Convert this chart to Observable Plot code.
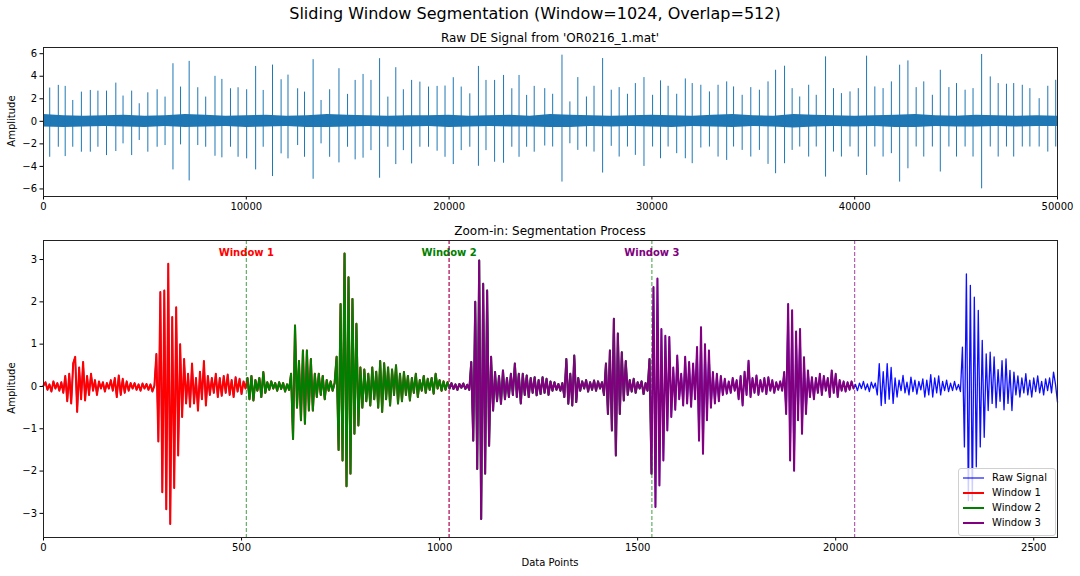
<!DOCTYPE html>
<html><head><meta charset="utf-8">
<script src="https://cdn.jsdelivr.net/npm/d3@7"></script>
<script src="https://cdn.jsdelivr.net/npm/@observablehq/plot@0.6"></script>
<style>
body{margin:0;background:#fff;}
#root{position:relative;width:1080px;height:576px;font-family:"DejaVu Sans",sans-serif;color:#000;overflow:hidden;background:#fff;}
.t{position:absolute;white-space:nowrap;}
.abs{position:absolute;left:0;}
.leg{position:absolute;left:958px;top:468px;width:96px;height:66px;border:1px solid #d0d0d0;border-radius:3px;background:rgba(255,255,255,0.8);font-size:10px;}
.row{position:absolute;left:0;height:14px;line-height:14px;}
.sw{position:absolute;left:4px;top:6px;width:21px;height:2px;}
.lb{position:absolute;left:33px;top:0;}
</style></head><body><div id="root"></div>
<script>
// ---------- Top panel: raw DE signal (50000 samples) ----------
const rawXTicks = [0, 10000, 20000, 30000, 40000, 50000];
const rawYTicks = [-6, -4, -2, 0, 2, 4, 6];
// impact spikes: sample position, max, min
const spikeX = [306,730,1070,1443,1868,2309,2683,3107,3566,3922,4347,4720,5145,5603,5994,6384,6758,7183,7607,7998,8456,8796,9220,9594,10018,10460,10833,11292,11716,12056,12531,12871,13295,13686,14110,14569,14993,15367,15757,16148,16572,16980,17371,17744,18152,18559,18984,19408,19799,20206,20597,21021,21446,21819,22244,22685,23093,23449,23823,24197,
24716,25107,25566,25956,26347,26772,27146,27570,27995,28386,28794,29184,29609,30034,30425,30799,31223,31648,31988,32413,32837,33262,33687,34027,34451,34876,35301,35726,36099,36541,36915,37289,37730,38104,38563,38954,39345,39769,40177,40585,40993,41400,41808,42216,42624,43031,43405,43830,44221,44645,45019,45444,45835,46259,46684,47075,47483,47840,48264,48638,49096,49521,49912];
const spikeHi = [2.95,3.19,3.10,1.85,2.59,2.74,2.68,2.68,3.39,2.24,2.68,1.56,2.53,2.80,2.15,5.11,3.04,5.32,2.98,2.15,3.99,3.72,2.89,2.98,2.80,4.87,2.74,4.99,3.69,4.10,2.89,2.59,5.47,1.85,2.80,4.67,2.39,3.63,4.16,3.63,5.56,2.15,4.76,2.80,3.63,3.48,3.04,3.10,3.13,3.87,3.04,2.44,4.87,3.63,3.63,4.07,2.89,4.07,2.30,3.10,
2.90,2.40,5.87,1.72,3.88,2.16,3.11,5.57,2.76,2.99,2.40,3.35,3.88,2.31,3.59,3.11,2.40,3.76,3.35,3.20,2.61,3.20,3.50,3.05,2.31,2.99,2.76,3.50,4.53,4.89,2.90,2.16,3.20,2.31,5.72,2.90,2.46,2.61,2.90,5.78,3.05,2.90,3.50,4.98,5.36,2.99,3.50,2.31,4.53,2.99,3.35,2.76,2.90,5.93,3.94,3.35,3.29,3.35,3.20,2.90,2.01,3.11,3.64];
const spikeLo = [-3.19,-2.30,-3.13,-2.30,-2.74,-2.74,-2.30,-3.04,-2.68,-2.00,-3.04,-1.70,-2.74,-2.30,-2.15,-4.31,-2.09,-5.29,-2.15,-2.30,-3.10,-3.24,-2.30,-3.19,-3.33,-4.31,-2.30,-4.90,-2.89,-3.33,-2.15,-3.19,-5.14,-2.00,-3.19,-3.69,-2.30,-3.42,-3.27,-2.60,-5.05,-2.30,-3.84,-2.60,-3.78,-2.30,-2.30,-2.65,-3.19,-3.84,-2.60,-2.30,-3.99,-2.60,-3.63,-3.72,-2.30,-3.19,-2.30,-2.74,
-2.19,-2.28,-5.39,-1.99,-2.58,-2.28,-2.73,-4.59,-2.22,-3.17,-2.28,-3.02,-4.00,-2.28,-3.32,-2.28,-2.87,-3.32,-3.76,-2.37,-2.28,-3.17,-3.47,-2.28,-2.58,-3.17,-2.58,-3.82,-4.65,-3.76,-2.58,-2.28,-3.17,-2.28,-4.95,-2.73,-3.17,-2.28,-3.17,-4.80,-2.28,-3.17,-2.87,-5.39,-4.21,-2.28,-3.17,-2.28,-4.50,-2.28,-3.17,-2.28,-3.17,-5.99,-2.28,-3.17,-2.28,-3.17,-2.28,-2.28,-2.28,-2.73,-2.28];
// background noise band envelope, every 1000 samples
const bandX = [0,1000,2000,3000,4000,5000,6000,7000,8000,9000,10000,11000,12000,13000,14000,15000,16000,17000,18000,19000,20000,21000,22000,23000,24000,25000,26000,27000,28000,29000,30000,31000,32000,33000,34000,35000,36000,37000,38000,39000,40000,41000,42000,43000,44000,45000,46000,47000,48000,49000,50000];
const bandHi = [0.6,0.5,0.45,0.5,0.55,0.45,0.5,0.6,0.55,0.45,0.5,0.55,0.45,0.5,0.6,0.55,0.5,0.45,0.5,0.5,0.55,0.45,0.5,0.55,0.45,0.6,0.55,0.5,0.45,0.5,0.55,0.5,0.45,0.55,0.6,0.5,0.45,0.6,0.55,0.5,0.45,0.5,0.55,0.6,0.5,0.45,0.55,0.5,0.45,0.5,0.45];
const bandLo = [-0.5,-0.55,-0.5,-0.45,-0.5,-0.55,-0.45,-0.55,-0.5,-0.45,-0.55,-0.5,-0.45,-0.55,-0.55,-0.5,-0.45,-0.5,-0.5,-0.45,-0.55,-0.5,-0.45,-0.5,-0.5,-0.55,-0.55,-0.45,-0.5,-0.45,-0.5,-0.55,-0.45,-0.5,-0.55,-0.45,-0.5,-0.6,-0.5,-0.45,-0.5,-0.45,-0.55,-0.55,-0.45,-0.5,-0.5,-0.45,-0.5,-0.45,-0.45];

// ---------- Bottom panel: first 2560 samples (every 5th sample) ----------
const zoomXTicks = [0, 500, 1000, 1500, 2000, 2500];
const zoomYTicks = [-3, -2, -1, 0, 1, 2, 3];
const zoomStep = 5;
const zoomSignal = [
 0.02,0.10,-0.08,0.05,-0.12,0.12,-0.05,0.08,-0.10,0.10,-0.15,
 0.25,-0.35,0.30,-0.40,0.55,0.70,-0.60,0.45,-0.30,0.58,-0.33,0.25,
 -0.20,0.30,-0.10,0.15,-0.20,0.12,-0.05,0.10,-0.12,0.08,-0.05,
 0.15,-0.10,0.20,-0.25,0.26,-0.20,0.18,-0.15,0.12,-0.10,0.08,
 -0.05,0.08,-0.08,0.05,-0.10,0.07,-0.05,0.06,-0.08,0.05,-0.12,0.02,
 0.77,-1.30,2.23,-2.50,2.27,-2.90,2.90,-3.25,1.64,-2.40,1.87,-1.63,
 1.00,-0.72,0.65,-0.40,0.30,-0.48,0.54,-0.40,0.20,-0.57,0.35,-0.30,0.60,-0.45,0.25,-0.20,0.20,-0.15,
 0.30,-0.25,0.20,-0.22,0.25,-0.15,0.28,-0.20,0.15,-0.25,0.22,-0.12,0.18,-0.18,0.12,-0.05,
 0.20,-0.30,0.25,-0.33,0.15,-0.10,0.20,-0.25,0.34,-0.15,0.10,-0.08,0.12,-0.05,0.08,-0.10,0.10,-0.06,0.08,-0.12,0.05,-0.08,
 0.30,-1.24,1.44,-0.50,0.60,-0.80,0.85,-0.88,0.85,-0.57,0.65,-0.57,0.30,-0.25,0.30,-0.20,0.25,-0.30,0.15,-0.10,
 0.12,-0.10,0.08,
 0.70,-1.50,1.95,-1.75,3.14,-2.36,2.58,-2.06,2.07,-1.12,1.48,
 -0.92,0.45,-0.50,0.40,-0.35,0.30,-0.45,0.45,-0.30,0.35,-0.50,0.60,-0.60,
 0.55,-0.30,0.45,-0.45,0.40,-0.20,0.50,-0.40,0.30,-0.35,0.34,-0.20,0.25,-0.33,0.20,-0.15,0.30,-0.25,0.15,-0.10,0.25,-0.15,0.18,-0.08,0.20,-0.17,0.30,-0.05,0.15,-0.10,0.12,-0.08,0.10,
 -0.05,0.08,-0.06,0.05,-0.08,0.06,-0.03,0.07,-0.06,0.04,-0.08,
 0.58,-1.28,2.00,-1.95,2.98,-3.13,2.43,-2.06,2.27,-1.40,0.70,
 -0.57,0.34,-0.35,0.25,-0.41,0.38,-0.30,0.20,-0.25,0.30,-0.20,0.54,-0.25,0.30,-0.40,0.30,-0.20,0.26,-0.25,0.20,-0.15,0.22,-0.21,0.15,-0.18,0.22,-0.15,0.18,-0.20,0.12,-0.10,
 0.10,-0.08,0.06,-0.10,0.08,
 -0.25,0.65,-0.41,0.30,-0.45,0.73,-0.37,0.20,
 -0.10,0.12,-0.05,0.15,-0.12,0.10,-0.08,0.14,-0.10,0.12,-0.05,0.10,
 -0.20,0.54,-0.65,0.85,-1.04,1.60,-1.63,1.25,-0.65,0.81,-0.33,
 0.60,-0.20,0.15,-0.12,0.18,-0.15,0.10,-0.05,0.12,-0.18,0.08,-0.10,
 0.65,-2.06,2.35,-2.85,2.55,-2.34,1.36,-1.75,1.20,-1.04,
 1.17,-0.72,0.45,-0.55,0.73,-0.30,0.30,-0.45,0.70,-0.40,0.58,-0.48,0.54,
 -0.30,0.93,-1.28,1.40,-1.59,1.00,-0.80,0.85,
 -0.50,0.34,-0.40,0.30,-0.35,0.25,-0.20,
 0.18,-0.17,0.12,-0.15,0.20,-0.10,0.15,
 -0.30,0.25,-0.45,0.35,-0.20,0.61,-0.25,
 0.20,-0.15,0.26,-0.20,0.15,-0.12,0.20,-0.18,0.22,-0.10,0.15,-0.15,0.10,-0.08,0.12,-0.10,
 0.34,-0.65,1.95,-1.75,1.80,-1.99,1.30,-0.80,1.36,-1.12,0.69,-0.65,
 0.38,-0.25,0.22,-0.30,0.20,-0.15,0.30,-0.20,0.25,-0.10,0.20,-0.25,0.38,-0.15,0.30,-0.25,0.15,-0.10,0.12,-0.12,0.10,-0.08,0.12,-0.05,
 0.05,-0.10,0.08,-0.05,0.12,-0.08,0.06,-0.12,0.10,-0.04,0.08,
 -0.20,0.54,-0.45,0.35,-0.40,0.54,-0.30,0.45,-0.40,
 0.20,-0.25,0.15,-0.10,0.26,-0.15,0.10,-0.20,0.22,-0.12,0.15,-0.18,0.12,-0.08,0.18,
 -0.25,0.15,-0.20,0.28,-0.25,0.20,-0.15,0.25,-0.20,0.12,-0.10,0.15,-0.12,0.08,-0.10,0.12,-0.08,0.05,-0.12,
 0.93,-1.43,2.66,-2.70,2.39,-2.70,2.11,-1.90,1.80,-1.43,1.09,-1.20,
 0.77,-0.57,0.81,-0.40,0.70,-0.50,0.40,-0.35,0.61,-0.55,0.65,-0.40,0.38,
 -0.57,0.34,-0.20,0.25,-0.25,0.20,-0.15,0.30,-0.20,0.15,-0.25,0.20,-0.12,0.25,-0.15,0.12,-0.20,0.18,-0.10,0.20,-0.15,0.34,0.05,-0.37
];
const windowNames = ["Window 1", "Window 2", "Window 3"];
const windowStarts = [0, 512, 1024];
const windowSize = 1024;
const windowColors = ["red", "green", "purple"];
const legendNames = ["Raw Signal", "Window 1", "Window 2", "Window 3"];
const legendColors = ["rgba(0,0,255,0.55)", "#ff0000", "#008000", "#800080"];

// ---------- build ----------
const fmt = d => d < 0 ? "\u2212" + (-d) : String(d);
const style = {fontFamily: "DejaVu Sans", fontSize: "10px", color: "#000", background: "transparent", overflow: "visible"};
const root = document.getElementById("root");

const spikes = spikeX.map((x, i) => ({x, hi: spikeHi[i], lo: spikeLo[i]}));
const band = bandX.map((x, i) => ({x, hi: bandHi[i], lo: bandLo[i]}));

const topPlot = Plot.plot({
  width: 1080, height: 225,
  marginLeft: 43, marginRight: 23, marginTop: 47, marginBottom: 29,
  style,
  x: {domain: [0, 50000], ticks: rawXTicks, tickFormat: d => String(d), label: null, tickSize: 3.5, tickPadding: 3},
  y: {domain: [-6.67, 6.55], ticks: rawYTicks, tickFormat: fmt, label: null, tickSize: 3.5, tickPadding: 3},
  marks: [
    Plot.areaY(band, {x: "x", y1: "lo", y2: "hi", fill: "#1f77b4"}),
    Plot.ruleX(spikes, {x: "x", y1: "lo", y2: "hi", stroke: "#1f77b4", strokeWidth: 1}),
    Plot.frame({stroke: "#222"})
  ]
});

const zoomData = zoomSignal.map((y, i) => ({x: i * zoomStep, y}));
const winMarks = [];
windowStarts.forEach((s, k) => {
  const e = s + windowSize;
  winMarks.push(Plot.line(zoomData.filter(d => d.x >= s && d.x < e), {x: "x", y: "y", stroke: windowColors[k], strokeWidth: 2}));
  winMarks.push(Plot.ruleX([s, e], {stroke: windowColors[k], strokeWidth: 1, strokeDasharray: "4,2", strokeOpacity: 0.75}));
  winMarks.push(Plot.text([windowNames[k]], {x: s + windowSize / 2, y: 3.17, text: d => d, fill: windowColors[k], fontWeight: "bold", fontSize: 10}));
});

const botPlot = Plot.plot({
  width: 1080, height: 351,
  marginLeft: 43, marginRight: 23, marginTop: 15, marginBottom: 39,
  style,
  x: {domain: [0, 2560], ticks: zoomXTicks, tickFormat: d => String(d), label: null, tickSize: 3.5, tickPadding: 3},
  y: {domain: [-3.57, 3.45], ticks: zoomYTicks, tickFormat: fmt, label: null, tickSize: 3.5, tickPadding: 3},
  marks: [
    Plot.line(zoomData, {x: "x", y: "y", stroke: "blue", strokeWidth: 1.3, strokeOpacity: 0.95}),
    ...winMarks,
    Plot.frame({stroke: "#222"})
  ]
});

topPlot.classList.add("abs"); topPlot.style.top = "0px";
botPlot.classList.add("abs"); botPlot.style.top = "225px";
root.appendChild(topPlot);
root.appendChild(botPlot);

function addText(txt, css) {
  const d = document.createElement("div");
  d.className = "t";
  d.textContent = txt;
  Object.assign(d.style, css);
  root.appendChild(d);
  return d;
}
addText("Sliding Window Segmentation (Window=1024, Overlap=512)", {left: "0px", width: "1070px", textAlign: "center", top: "4px", fontSize: "16px", lineHeight: "20px"});
addText("Raw DE Signal from 'OR0216_1.mat'", {left: "43px", width: "1014px", textAlign: "center", top: "30px", fontSize: "12px", lineHeight: "16px"});
addText("Zoom-in: Segmentation Process", {left: "43px", width: "1014px", textAlign: "center", top: "223px", fontSize: "12px", lineHeight: "16px"});
addText("Data Points", {left: "450px", width: "200px", textAlign: "center", top: "556px", fontSize: "10px", lineHeight: "14px"});
addText("Amplitude", {left: "-38px", width: "100px", textAlign: "center", top: "114px", fontSize: "10px", lineHeight: "14px", transform: "rotate(-90deg)"});
addText("Amplitude", {left: "-38px", width: "100px", textAlign: "center", top: "381px", fontSize: "10px", lineHeight: "14px", transform: "rotate(-90deg)"});

const leg = document.createElement("div");
leg.className = "leg";
legendNames.forEach((n, i) => {
  const r = document.createElement("div");
  r.className = "row";
  r.style.top = (2 + i * 15) + "px";
  r.style.width = "96px";
  const sw = document.createElement("div");
  sw.className = "sw";
  sw.style.background = legendColors[i];
  const lb = document.createElement("div");
  lb.className = "lb";
  lb.textContent = n;
  r.appendChild(sw); r.appendChild(lb);
  leg.appendChild(r);
});
root.appendChild(leg);
</script></body></html>
